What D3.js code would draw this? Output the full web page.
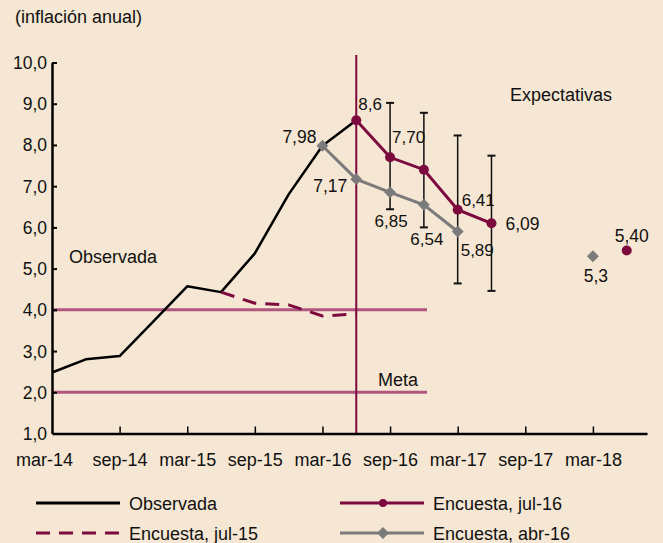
<!DOCTYPE html>
<html><head><meta charset="utf-8">
<script src="https://cdn.jsdelivr.net/npm/d3@7"></script>
<style>
html,body{margin:0;padding:0;background:#f5e7d3;}
svg{display:block;font-family:"Liberation Sans",Arial,Helvetica,sans-serif;}
.narrow{font-family:"Liberation Sans Narrow","Liberation Sans",Arial,sans-serif;}
</style></head>
<body>
<svg id="c" width="663" height="543"></svg>
<script>
// month index: 0 = mar-14
const tickMonths = [0, 6, 12, 18, 24, 30, 36, 42, 48];
const tickLabels = ["mar-14","sep-14","mar-15","sep-15","mar-16","sep-16","mar-17","sep-17","mar-18"];
const yTicks = [1,2,3,4,5,6,7,8,9,10];

const observadaMonths = [0, 3, 6, 9, 12, 15, 18, 21, 24, 27];
const observada      = [2.48, 2.80, 2.88, 3.72, 4.57, 4.43, 5.37, 6.80, 7.98, 8.60];

const jul15Months = [15, 18, 21, 24, 27];
const jul15       = [4.43, 4.16, 4.12, 3.85, 3.90];

const jul16Months = [27, 30, 33, 36, 39];
const jul16       = [8.60, 7.70, 7.40, 6.43, 6.10];
const jul16Extra  = {m: 51, v: 5.44};

const abr16Months = [24, 27, 30, 33, 36];
const abr16       = [7.98, 7.17, 6.85, 6.55, 5.90];
const abr16Extra  = {m: 48, v: 5.30};

const errMonths = [30, 33, 36, 39];
const errLow    = [6.44, 6.00, 4.64, 4.46];
const errHigh   = [9.02, 8.78, 8.23, 7.74];

const metaLevels = [2.0, 4.0];
const encuestaStart = 27; // jun-16

// labels: [text, series point month, value, dx, dy, anchor, narrow]
const labels = [
  ["7,98", 24, 7.98, -6, -3, "end", false],
  ["8,6", 27, 8.60, 2, -10, "start", true],
  ["7,70", 30, 7.70, 2, -14, "start", true],
  ["7,17", 27, 7.17, -9, 13, "end", false],
  ["6,85", 30, 6.85, 1, 35, "middle", true],
  ["6,54", 33, 6.55, 3, 40, "middle", true],
  ["6,41", 36, 6.43, 4, -4, "start", true],
  ["5,89", 36, 5.90, 3, 24, "start", true],
  ["6,09", 39, 6.10, 14, 7, "start", false],
  ["5,40", 51, 5.44, 5, -8, "middle", false],
  ["5,3", 48, 5.30, 3, 26, "middle", false]
];

const svg = d3.select("#c");
const x = d3.scaleLinear().domain([0, 52.8]).range([52, 647]);
const y = d3.scaleLinear().domain([1, 10]).range([433.5, 62.5]);

const RED = "#7c0a3f", GRAY = "#7b7b7b", META = "#b0567f";

// meta lines
svg.selectAll(".meta").data(metaLevels).enter().append("line")
  .attr("x1", x(0)).attr("x2", 427)
  .attr("y1", d => y(d)).attr("y2", d => y(d))
  .attr("stroke", META).attr("stroke-width", 3);

// vertical line
svg.append("line").attr("x1", x(encuestaStart)).attr("x2", x(encuestaStart))
  .attr("y1", 55).attr("y2", y(1)).attr("stroke", RED).attr("stroke-width", 2);

// axes
const yAxis = d3.axisLeft(y).tickValues(yTicks)
  .tickFormat(d => d.toFixed(1).replace(".", ","))
  .tickSizeInner(-5).tickSizeOuter(0).tickPadding(5);
const gy = svg.append("g").attr("transform", `translate(${x(0)},0)`).call(yAxis);
gy.select(".domain").attr("stroke", "#000").attr("stroke-width", 2.5);
gy.selectAll(".tick line").attr("stroke", "#000").attr("stroke-width", 2);
gy.selectAll(".tick text").attr("font-size", 17.5).attr("fill", "#111").attr("dy", "0.34em");
gy.selectAll(".tick").filter(d => d === 1).select("line").remove();

const xAxis = d3.axisBottom(x).tickValues(tickMonths)
  .tickFormat((d, i) => tickLabels[i])
  .tickSizeInner(-7).tickSizeOuter(0).tickPadding(20);
const gx = svg.append("g").attr("transform", `translate(0,${y(1)})`).call(xAxis);
gx.select(".domain").attr("stroke", "#000").attr("stroke-width", 2.5);
gx.selectAll(".tick line").attr("stroke", "#000").attr("stroke-width", 1.5);
gx.selectAll(".tick").filter(d => d === 0).select("line").remove();
gx.selectAll(".tick text").attr("font-size", 18).attr("fill", "#111")
  .attr("dx", d => d === 0 ? -8 : 0);
gy.attr("font-family", null); gx.attr("font-family", null);

const line = d3.line().x(d => x(d[0])).y(d => y(d[1]));

// error bars
const eb = svg.append("g");
errMonths.forEach((m, i) => {
  eb.append("line").attr("x1", x(m)).attr("x2", x(m)).attr("y1", y(errLow[i])).attr("y2", y(errHigh[i]))
    .attr("stroke", "#111").attr("stroke-width", 1.5);
  [errLow[i], errHigh[i]].forEach(v => eb.append("line")
    .attr("x1", x(m) - 4).attr("x2", x(m) + 4).attr("y1", y(v)).attr("y2", y(v))
    .attr("stroke", "#111").attr("stroke-width", 2));
});

// observada
svg.append("path").datum(observadaMonths.map((m, i) => [m, observada[i]]))
  .attr("d", line).attr("fill", "none").attr("stroke", "#000").attr("stroke-width", 2.5)
  .attr("stroke-linejoin", "round");

// jul-15 dashed
svg.append("path").datum(jul15Months.map((m, i) => [m, jul15[i]]))
  .attr("d", line).attr("fill", "none").attr("stroke", RED).attr("stroke-width", 3)
  .attr("stroke-dasharray", "14,9");

// abr-16
const abrData = abr16Months.map((m, i) => [m, abr16[i]]);
svg.append("path").datum(abrData).attr("d", line).attr("fill", "none")
  .attr("stroke", GRAY).attr("stroke-width", 3);
const diamond = d3.symbol().type(d3.symbolDiamond2).size(90);
svg.selectAll(".dia").data(abrData.concat([[abr16Extra.m, abr16Extra.v]])).enter().append("path")
  .attr("d", diamond).attr("transform", d => `translate(${x(d[0])},${y(d[1])})`).attr("fill", GRAY);

// jul-16
const julData = jul16Months.map((m, i) => [m, jul16[i]]);
svg.append("path").datum(julData).attr("d", line).attr("fill", "none")
  .attr("stroke", RED).attr("stroke-width", 3);
svg.selectAll(".dot").data(julData.concat([[jul16Extra.m, jul16Extra.v]])).enter().append("circle")
  .attr("cx", d => x(d[0])).attr("cy", d => y(d[1])).attr("r", 5).attr("fill", RED);

// data labels
svg.selectAll(".lab").data(labels).enter().append("text")
  .attr("class", d => d[6] ? "narrow" : null)
  .attr("x", d => x(d[1]) + d[3]).attr("y", d => y(d[2]) + d[4])
  .attr("text-anchor", d => d[5]).attr("font-size", d => d[6] ? 17 : 17.5).attr("fill", "#111")
  .text(d => d[0]);

// annotations
svg.append("text").attr("x", 15).attr("y", 23).attr("font-size", 18).attr("fill", "#111").text("(inflación anual)");
svg.append("text").attr("x", 69).attr("y", 263).attr("font-size", 18).attr("fill", "#111").text("Observada");
svg.append("text").attr("x", 378).attr("y", 386).attr("font-size", 18).attr("fill", "#111").text("Meta");
svg.append("text").attr("x", 510).attr("y", 101).attr("font-size", 18).attr("fill", "#111").text("Expectativas");

// legend
const leg = svg.append("g");
const rows = [
  {x: 36, y: 503, label: "Observada", stroke: "#000", dash: null, mark: null},
  {x: 340, y: 503, label: "Encuesta, jul-16", stroke: RED, dash: null, mark: "circle"},
  {x: 36, y: 533, label: "Encuesta, jul-15", stroke: RED, dash: "14,9", mark: null},
  {x: 340, y: 533, label: "Encuesta, abr-16", stroke: GRAY, dash: null, mark: "diamond"}
];
rows.forEach(r => {
  leg.append("line").attr("x1", r.x).attr("x2", r.x + 84).attr("y1", r.y).attr("y2", r.y)
    .attr("stroke", r.stroke).attr("stroke-width", 3).attr("stroke-dasharray", r.dash);
  if (r.mark === "circle") leg.append("circle").attr("cx", r.x + 43).attr("cy", r.y).attr("r", 4).attr("fill", r.stroke);
  if (r.mark === "diamond") leg.append("path").attr("d", diamond).attr("transform", `translate(${r.x + 43},${r.y})`).attr("fill", r.stroke);
  leg.append("text").attr("x", r.x + 93).attr("y", r.y + 7).attr("font-size", 18).attr("fill", "#111").text(r.label);
});
</script>
</body></html>
